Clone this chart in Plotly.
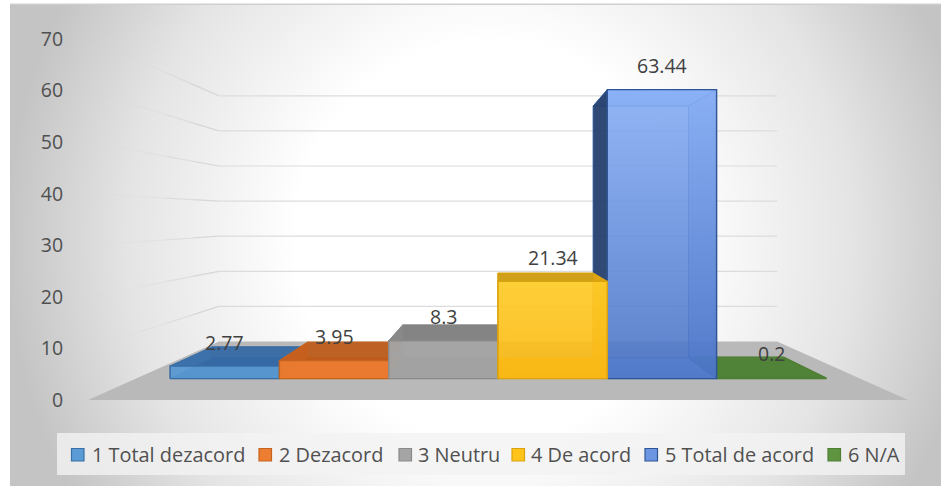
import urllib.parse
import plotly.graph_objects as go

categories = ["1 Total dezacord", "2 Dezacord", "3 Neutru", "4 De acord", "5 Total de acord", "6 N/A"]
values = [2.77, 3.95, 8.3, 21.34, 63.44, 0.2]
value_labels = ["2.77", "3.95", "8.3", "21.34", "63.44", "0.2"]
tick_values = [0, 10, 20, 30, 40, 50, 60, 70]

front_colors = ["#5b9bd5", "#ed7d31", "#a5a5a5", "#ffc31a", "#6d96e2", "#5f9440"]
face_colors = ["rgba(91,155,213,0.88)", "rgba(237,125,49,0.9)", "rgba(165,165,165,0.93)",
               "rgba(255,195,26,0.9)", "rgba(109,150,226,0.9)", "rgba(95,148,64,0.9)"]
edge_colors = ["#3a6ea5", "#c5641f", "#8a8a8a", "#d9a30f", "#2f5597", "#4f7f35"]
top_colors = ["rgba(52,104,165,0.92)", "rgba(190,90,25,0.92)", "rgba(125,125,125,0.95)",
              "rgba(205,155,15,0.95)", "rgba(135,175,245,0.75)", "rgba(80,130,55,0.95)"]
left_colors = ["rgba(60,115,175,0.5)", "rgba(200,95,30,0.9)", "rgba(140,140,140,0.5)",
               "rgba(225,170,15,0.3)", "rgba(38,64,110,0.95)", "rgba(80,130,55,0.4)"]
right_colors = ["rgba(60,115,175,0.3)", "rgba(200,95,30,0.3)", "rgba(140,140,140,0.4)",
                "rgba(225,165,15,0.9)", "rgba(75,115,205,0.55)", "rgba(80,130,55,0.4)"]
swatch_left_px = [71.5, 259, 399, 512, 645, 828]
label_left_px = [91, 278, 417, 530, 664, 847]

# plot-area geometry on the 941 x 486 canvas
PLOT_L, PLOT_R, PLOT_T, PLOT_B = 88, 908, 39, 400
# perspective: 1 = front of the floor (where the value axis is read)
DEPTH_FRONT, DEPTH_BAR_BACK, DEPTH_WALL = 0.8833, 0.7699, 0.6807
VANISH_X, VANISH_Y = 3.0, 35.52
X_SPAN = 3.3137
FONT = "Open Sans"
FONT_SIZE = 19.5
LEGEND_FONT_SIZE = 19.9


def project(x, v, depth):
    return VANISH_X + depth * (x - VANISH_X), VANISH_Y + depth * (v - VANISH_Y)


def poly(corners, fill, line="rgba(0,0,0,0)", width=0.8, gradient=None):
    xs = [c[0] for c in corners] + [corners[0][0]]
    ys = [c[1] for c in corners] + [corners[0][1]]
    kw = dict(fillgradient=gradient) if gradient else dict(fillcolor=fill)
    return go.Scatter(x=xs, y=ys, mode="lines", fill="toself", line=dict(color=line, width=width),
                      hoverinfo="skip", showlegend=False, **kw)


fig = go.Figure()

# floor
fig.add_trace(poly([project(VANISH_X - X_SPAN, 0, 1), project(VANISH_X + X_SPAN, 0, 1),
                    project(VANISH_X + X_SPAN, 0, DEPTH_WALL), project(VANISH_X - X_SPAN, 0, DEPTH_WALL)],
                   "#b9b9b9"))

# gridlines: back wall and fading left side wall
for v in tick_values:
    a = project(VANISH_X - X_SPAN, v, DEPTH_WALL)
    b = project(VANISH_X + X_SPAN, v, DEPTH_WALL)
    if v > 0:
        fig.add_trace(go.Scatter(x=[a[0], b[0]], y=[a[1], b[1]], mode="lines",
                                 line=dict(color="#dcdcdc", width=1.2), hoverinfo="skip", showlegend=False))
        fades = [0.9, 0.6, 0.3, 0.12, 0.04]
        n = len(fades)
        for k, alpha in enumerate(fades):
            d0 = DEPTH_WALL + (1 - DEPTH_WALL) * k / n
            d1 = DEPTH_WALL + (1 - DEPTH_WALL) * (k + 1) / n
            p0 = project(VANISH_X - X_SPAN, v, d0)
            p1 = project(VANISH_X - X_SPAN, v, d1)
            fig.add_trace(go.Scatter(x=[p0[0], p1[0]], y=[p0[1], p1[1]], mode="lines",
                                     line=dict(color=f"rgba(212,212,212,{alpha})", width=1.2),
                                     hoverinfo="skip", showlegend=False))

# bars, back to front
gradients = {
    3: dict(type="vertical", colorscale=[[0, "rgba(252,185,21,0.92)"], [1, "rgba(255,204,40,0.92)"]]),
    4: dict(type="vertical", colorscale=[[0, "rgba(74,116,198,0.9)"], [1, "rgba(136,175,246,0.9)"]]),
}
for i in [0, 1, 2, 5, 4, 3]:
    v = values[i]
    x0, x1 = i, i + 1
    fb0, ft0 = project(x0, 0, DEPTH_FRONT), project(x0, v, DEPTH_FRONT)
    fb1, ft1 = project(x1, 0, DEPTH_FRONT), project(x1, v, DEPTH_FRONT)
    bb0, bt0 = project(x0, 0, DEPTH_BAR_BACK), project(x0, v, DEPTH_BAR_BACK)
    bb1, bt1 = project(x1, 0, DEPTH_BAR_BACK), project(x1, v, DEPTH_BAR_BACK)
    edge = edge_colors[i]
    fig.add_trace(poly([bb0, bb1, fb1, fb0], top_colors[i], edge))           # bottom
    fig.add_trace(poly([bb0, bb1, bt1, bt0], "rgba(0,0,0,0.05)", edge))      # back
    fig.add_trace(poly([ft0, ft1, bt1, bt0], top_colors[i], edge))           # top
    fig.add_trace(poly([fb0, ft0, bt0, bb0], left_colors[i], edge))          # left
    fig.add_trace(poly([fb1, ft1, bt1, bb1], right_colors[i], edge))         # right
    fig.add_trace(poly([fb0, fb1, ft1, ft0], face_colors[i], edge, 1.4, gradients.get(i)))  # front

# data labels
annotations = []
for i, v in enumerate(values):
    x, y = project(i + 0.5, v, DEPTH_FRONT)
    annotations.append(dict(x=x, y=y, text=value_labels[i], showarrow=False, yshift=24,
                            font=dict(family=FONT, size=FONT_SIZE, color="#404040")))


# legend
def px_x(px):
    return (px - PLOT_L) / (PLOT_R - PLOT_L)


def px_y(py):
    return (PLOT_B - py) / (PLOT_B - PLOT_T)


shapes = [dict(type="rect", xref="paper", yref="paper", x0=px_x(57), x1=px_x(905), y0=px_y(475), y1=px_y(433),
               fillcolor="rgba(242,242,242,0.8)", line=dict(width=0), layer="below")]
for i, name in enumerate(categories):
    shapes.append(dict(type="rect", xref="paper", yref="paper",
                       x0=px_x(swatch_left_px[i]), x1=px_x(swatch_left_px[i] + 12.5),
                       y0=px_y(461), y1=px_y(448.5), fillcolor=front_colors[i],
                       line=dict(color=edge_colors[i], width=1.2)))
    annotations.append(dict(xref="paper", yref="paper", x=px_x(label_left_px[i]), y=px_y(454.5), text=name,
                            xanchor="left", yanchor="middle", showarrow=False,
                            font=dict(family=FONT, size=LEGEND_FONT_SIZE, color="#505050"),
                            borderpad=0))

# background panel
svg = ('<svg xmlns="http://www.w3.org/2000/svg" width="941" height="486" viewBox="0 0 941 486">'
       '<defs><radialGradient id="g" gradientUnits="userSpaceOnUse" cx="0" cy="0" r="1" '
       'gradientTransform="translate(490 240) scale(485 500)">'
       '<stop offset="0.4" stop-color="#ffffff"/><stop offset="0.75" stop-color="#e4e4e4"/>'
       '<stop offset="1" stop-color="#c4c4c4"/></radialGradient></defs>'
       '<rect width="941" height="486" fill="#ffffff"/>'
       '<rect x="10" y="4" width="931" height="482" fill="url(#g)"/>'
       '<rect x="10" y="3.5" width="931" height="1.5" fill="#cfcfcf"/></svg>')
image = dict(source="data:image/svg+xml," + urllib.parse.quote(svg), xref="paper", yref="paper",
             x=px_x(0), y=px_y(0), sizex=941 / (PLOT_R - PLOT_L), sizey=486 / (PLOT_B - PLOT_T),
             sizing="stretch", xanchor="left", yanchor="top", layer="below")

fig.update_layout(
    width=941, height=486, autosize=False,
    margin=dict(l=PLOT_L, r=941 - PLOT_R, t=PLOT_T, b=486 - PLOT_B, pad=0),
    paper_bgcolor="#ffffff", plot_bgcolor="rgba(0,0,0,0)", showlegend=False,
    xaxis=dict(visible=False, range=[VANISH_X - X_SPAN, VANISH_X + X_SPAN], fixedrange=True),
    yaxis=dict(range=[0, 70], tickvals=tick_values, showgrid=False, zeroline=False, showline=False,
               ticks="outside", ticklen=20, tickcolor="rgba(0,0,0,0)", fixedrange=True,
               tickfont=dict(family=FONT, size=FONT_SIZE, color="#505050")),
    shapes=shapes, annotations=annotations, images=[image],
)
fig.write_html("out.html", config=dict(displayModeBar=False),
               post_script="document.body.style.margin='0';document.body.style.overflow='hidden';")
